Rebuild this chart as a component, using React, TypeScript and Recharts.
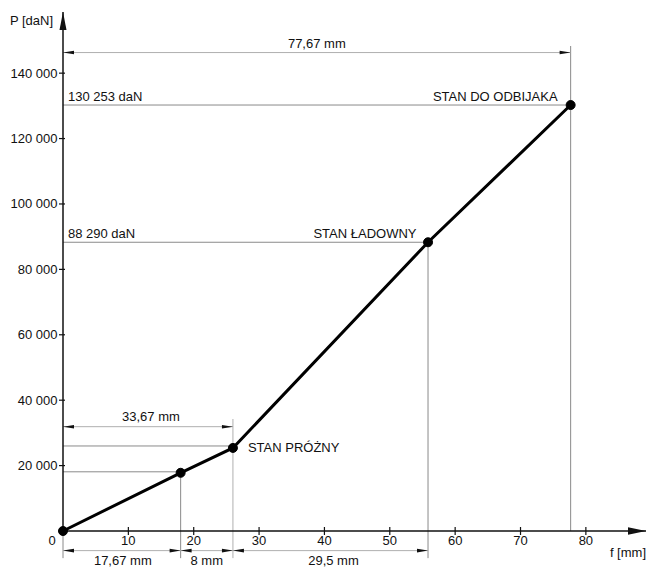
import { LineChart, Line, XAxis, YAxis, ReferenceLine, ReferenceDot } from 'recharts'

// spring deflection [mm] vs. load [daN]
const deflection = [0, 18, 26, 55.85, 77.67]
const load = [0, 17800, 25400, 88290, 130253]
const xTicks = [10, 20, 30, 40, 50, 60, 70, 80]
const yTicks = [20000, 40000, 60000, 80000, 100000, 120000, 140000]
const stateLabels = ['STAN PRÓŻNY', 'STAN ŁADOWNY', 'STAN DO ODBIJAKA']
const loadLabels = ['88 290 daN', '130 253 daN']
const dimLabels = ['77,67 mm', '33,67 mm', '17,67 mm', '8 mm', '29,5 mm']

const data = deflection.map((f, i) => ({ f, P: load[i] }))

const FONT = '"Liberation Sans", Arial, Helvetica, sans-serif'
const INK = '#111'
const GUIDE = '#8a8a8a'
const DIM = '#b0b0b0'
const X_MAX = 89.2
const Y_MAX = 158700

const fmt = (v: number) => String(v).replace(/\B(?=(\d{3})+(?!\d))/g, ' ')

function XTick(props: any) {
  const { x, y, payload } = props
  const axisY = y - 8
  return (
    <g>
      <line x1={x} x2={x} y1={axisY - 4} y2={axisY + 4} stroke={INK} strokeWidth={1.2} />
      <text x={x} y={axisY + 13.5} textAnchor="middle" fontSize={13} fontFamily={FONT} fill={INK}>
        {payload.value}
      </text>
    </g>
  )
}

function YTick(props: any) {
  const { x, y, payload } = props
  const axisX = x + 8
  return (
    <g>
      <line x1={axisX - 4} x2={axisX + 2} y1={y} y2={y} stroke={INK} strokeWidth={1.2} />
      <text x={axisX - 5.5} y={y + 4.5} textAnchor="end" fontSize={13} fontFamily={FONT} fill={INK}>
        {fmt(payload.value)}
      </text>
    </g>
  )
}

function seg(key: string, x1: number, y1: number, x2: number, y2: number, stroke = GUIDE) {
  return (
    <ReferenceLine
      key={key}
      segment={[{ x: x1, y: y1 }, { x: x2, y: y2 }]}
      stroke={stroke}
      strokeWidth={1}
      ifOverflow="visible"
    />
  )
}

function note(key: string, x: number, y: number, text: string, anchor: string, dx: number, dy: number) {
  return (
    <ReferenceDot
      key={key}
      x={x}
      y={y}
      r={0}
      ifOverflow="visible"
      shape={(p: any) => (
        <text x={p.cx + dx} y={p.cy + dy} textAnchor={anchor} fontSize={13} fontFamily={FONT} fill={INK}>
          {text}
        </text>
      )}
    />
  )
}

// dir -1: tip points left, +1: tip points right
function tip(key: string, x: number, y: number, dir: number) {
  return (
    <ReferenceDot
      key={key}
      x={x}
      y={y}
      r={0}
      ifOverflow="visible"
      shape={(p: any) => (
        <polygon
          points={`${p.cx},${p.cy} ${p.cx - dir * 11},${p.cy - 1.8} ${p.cx - dir * 11},${p.cy + 1.8}`}
          fill={INK}
        />
      )}
    />
  )
}

export default function App() {
  const [f0, f1, f2, f3, f4] = deflection
  const dimTop = 146300
  const dimMid = 31900
  const dimLow = -6000
  const extLow = -8300

  return (
    <div style={{ position: 'absolute', left: 0, top: 0 }}>
      <LineChart width={648} height={568} data={data} margin={{ top: 12, right: 2, bottom: 0, left: 0 }}>
        <XAxis
          type="number"
          dataKey="f"
          domain={[0, X_MAX]}
          ticks={xTicks}
          interval={0}
          tickSize={6}
          tickMargin={2}
          tickLine={false}
          axisLine={{ stroke: INK, strokeWidth: 1.5 }}
          tick={(p: any) => <XTick {...p} />}
          height={37}
        />
        <YAxis
          type="number"
          domain={[0, Y_MAX]}
          ticks={yTicks}
          interval={0}
          tickSize={6}
          tickMargin={2}
          tickLine={false}
          axisLine={{ stroke: INK, strokeWidth: 1.5 }}
          tick={(p: any) => <YTick {...p} />}
          width={63}
        />

        {/* horizontal guides */}
        {seg('h1', f0, load[4], f4, load[4])}
        {seg('h2', f0, load[3], f3, load[3])}
        {seg('h3', f0, 26000, f2, 26000)}
        {seg('h4', f0, 18100, f1, 18100)}

        {/* extension lines */}
        {seg('v4', f4, 148300, f4, 0)}
        {seg('v3', f3, load[3], f3, extLow)}
        {seg('v2', f2, 34250, f2, extLow, DIM)}
        {seg('v1', f1, load[1], f1, extLow)}
        {seg('v0', f0, 0, f0, extLow)}

        {/* dimension lines */}
        {seg('d1', f0, dimTop, f4, dimTop, DIM)}
        {seg('d2', f0, dimMid, f2, dimMid, DIM)}
        {seg('d3', f0, dimLow, f3, dimLow, DIM)}

        {tip('a1', f0, dimTop, -1)}
        {tip('a2', f4, dimTop, 1)}
        {tip('a3', f0, dimMid, -1)}
        {tip('a4', f2, dimMid, 1)}
        {tip('a5', f0, dimLow, -1)}
        {tip('a6', f1, dimLow, 1)}
        {tip('a7', f1, dimLow, -1)}
        {tip('a8', f2, dimLow, 1)}
        {tip('a9', f2, dimLow, -1)}
        {tip('a10', f3, dimLow, 1)}

        <Line
          type="linear"
          dataKey="P"
          stroke="#000"
          strokeWidth={3}
          dot={{ r: 4.5, fill: '#000', stroke: '#000', strokeWidth: 1 }}
          activeDot={false}
          isAnimationActive={false}
        />

        {/* axis arrows */}
        <ReferenceDot
          x={0}
          y={Y_MAX}
          r={0}
          ifOverflow="visible"
          shape={(p: any) => (
            <polygon points={`${p.cx},${p.cy} ${p.cx - 3.5},${p.cy + 18} ${p.cx + 3.5},${p.cy + 18}`} fill={INK} />
          )}
        />
        <ReferenceDot
          x={X_MAX}
          y={0}
          r={0}
          ifOverflow="visible"
          shape={(p: any) => (
            <polygon points={`${p.cx},${p.cy} ${p.cx - 18},${p.cy - 3.8} ${p.cx - 18},${p.cy + 3.8}`} fill={INK} />
          )}
        />

        {/* texts */}
        {note('t-p', 0, Y_MAX, 'P [daN]', 'end', -10, 13)}
        {note('t-f', X_MAX, 0, 'f [mm]', 'end', 0, 26)}
        {note('t-0', 0, 0, '0', 'middle', -11, 13.5)}
        {note('t-s1', f2, load[2], stateLabels[0], 'start', 15, 4.5)}
        {note('t-s2', f3, load[3], stateLabels[1], 'end', -11.5, -4)}
        {note('t-s3', f4, load[4], stateLabels[2], 'end', -13, -4)}
        {note('t-l1', f0, load[3], loadLabels[0], 'start', 5, -4)}
        {note('t-l2', f0, load[4], loadLabels[1], 'start', 5, -4)}
        {note('t-d1', (f0 + f4) / 2, dimTop, dimLabels[0], 'middle', 0, -4.5)}
        {note('t-d2', (f0 + f2) / 2, dimMid, dimLabels[1], 'middle', 3, -6)}
        {note('t-d3', (f0 + f1) / 2, dimLow, dimLabels[2], 'middle', 1, 14.5)}
        {note('t-d4', (f1 + f2) / 2, dimLow, dimLabels[3], 'middle', 0, 14.5)}
        {note('t-d5', (f2 + f3) / 2, dimLow, dimLabels[4], 'middle', 3, 14.5)}
      </LineChart>
    </div>
  )
}
